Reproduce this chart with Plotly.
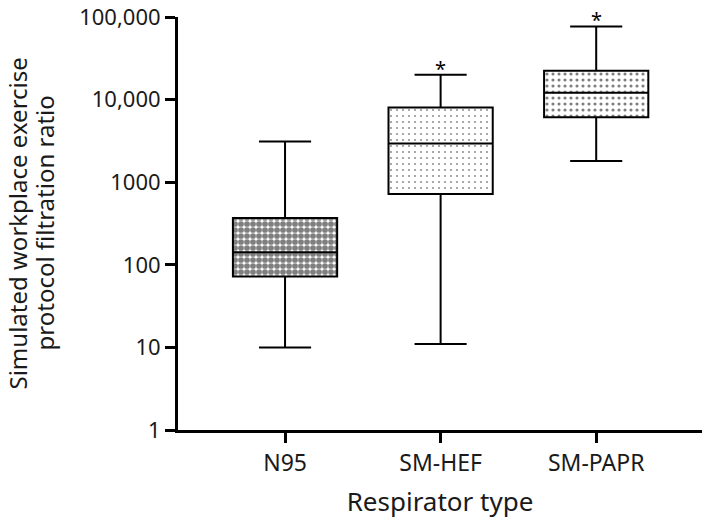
import math
import plotly.graph_objects as go

categories = ["N95", "SM-HEF", "SM-PAPR"]
lower_whisker = [10, 11, 1800]
q1_values = [72, 720, 6100]
median_values = [142, 2950, 12100]
q3_values = [368, 8000, 22300]
upper_whisker = [3120, 20000, 77000]
significance = ["", "*", "*"]

y_tickvals = [1, 10, 100, 1000, 10000, 100000]
y_ticktext = ["1", "10", "100", "1000", "10,000", "100,000"]
y_title_lines = ["Simulated workplace exercise", "protocol filtration ratio"]

FONT = "Noto Sans"
TXT = "#1a1a1a"
box_w = 0.67
ML, MR, MT, MB = 178, 7, 17, 94

fig = go.Figure()

# patterned box bodies
fig.add_trace(go.Bar(
    x=categories,
    y=[q3 - q1 for q1, q3 in zip(q1_values, q3_values)],
    base=q1_values,
    width=box_w,
    marker=dict(
        color="white",
        line=dict(width=0),
        pattern=dict(
            shape=[".", ".", "."],
            fgcolor=["black", "black", "black"],
            bgcolor=["white", "white", "white"],
            size=[6, 6, 6],
            solidity=[0.72, 0.07, 0.22],
            fillmode="overlay",
        ),
    ),
    hoverinfo="skip",
    showlegend=False,
))

fig.add_trace(go.Box(
    x=categories,
    q1=q1_values,
    median=median_values,
    q3=q3_values,
    lowerfence=lower_whisker,
    upperfence=upper_whisker,
    width=box_w,
    whiskerwidth=0.5,
    fillcolor="rgba(0,0,0,0)",
    line=dict(color="black", width=2),
    boxpoints=False,
    showlegend=False,
))

for cat, up, sig in zip(categories, upper_whisker, significance):
    if sig:
        fig.add_annotation(
            x=cat, y=math.log10(up), text=sig, showarrow=False,
            yanchor="bottom", yshift=-9,
            font=dict(family=FONT, size=20, color="black"),
        )

# two-line y-axis title (tighter line spacing than plotly's default)
for line_text, xs in zip(y_title_lines, [-161, -134]):
    fig.add_annotation(
        xref="paper", yref="paper", x=0, y=0.5, xshift=xs,
        xanchor="center", yanchor="middle",
        text=line_text, textangle=-90, showarrow=False,
        font=dict(family=FONT, size=24, color=TXT),
    )

fig.update_layout(
    width=709, height=524,
    margin=dict(l=ML, r=MR, t=MT, b=MB),
    plot_bgcolor="white", paper_bgcolor="white",
    font=dict(family=FONT, color=TXT),
    bargap=0,
)

fig.update_xaxes(
    type="category",
    range=[-0.688, 2.68],
    automargin=False,
    showline=True, linecolor="black", linewidth=3,
    ticks="outside", ticklen=10, tickwidth=3, tickcolor="black",
    tickfont=dict(family=FONT, size=23, color=TXT),
    showgrid=False, zeroline=False,
    title=dict(text="Respirator type", font=dict(family=FONT, size=26, color=TXT), standoff=17),
)

fig.update_yaxes(
    type="log",
    range=[0, 5],
    automargin=False,
    tickvals=y_tickvals, ticktext=y_ticktext,
    ticklabeloverflow="allow",
    showline=True, linecolor="black", linewidth=3,
    ticks="outside", ticklen=10, tickwidth=3, tickcolor="black",
    tickfont=dict(family=FONT, size=22, color=TXT),
    showgrid=False, zeroline=False,
)

fig.write_html(
    "out.html",
    config={"displayModeBar": False},
    post_script="document.body.style.margin='0px';",
)
